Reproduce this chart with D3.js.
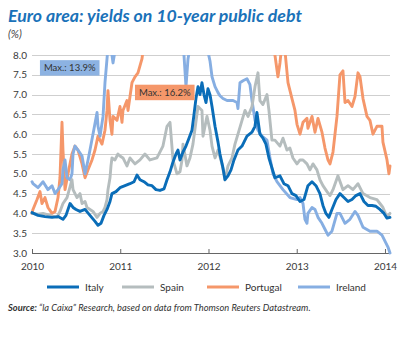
<!DOCTYPE html>
<html><head><meta charset="utf-8">
<script src="https://cdn.jsdelivr.net/npm/d3@7"></script>
<style>
html,body{margin:0;padding:0;background:#fff;}
svg{display:block;}
</style></head>
<body>
<svg id="chart" width="402" height="338"></svg>
<script>
// ---- data (decimal year, yield %) ----
const yTicks = [3.0, 3.5, 4.0, 4.5, 5.0, 5.5, 6.0, 6.5, 7.0, 7.5, 8.0];
const xTicks = [2010, 2011, 2012, 2013, 2014];
const seriesNames = ["Italy", "Spain", "Portugal", "Ireland"];
const maxLabels = ["Max.: 13.9%", "Max.: 16.2%"];

const italy = [[2010.000,4.02],[2010.068,3.95],[2010.147,3.92],[2010.227,3.90],[2010.295,3.92],[2010.351,3.85],[2010.385,3.95],[2010.431,4.25],[2010.465,4.15],[2010.499,4.10],[2010.544,4.05],[2010.601,4.10],[2010.657,3.95],[2010.714,3.80],[2010.748,3.70],[2010.782,3.75],[2010.816,3.95],[2010.850,4.10],[2010.884,4.30],[2010.906,4.50],[2010.952,4.55],[2010.997,4.65],[2011.054,4.70],[2011.110,4.75],[2011.156,4.80],[2011.190,4.97],[2011.224,4.85],[2011.269,4.80],[2011.314,4.72],[2011.360,4.70],[2011.405,4.60],[2011.450,4.58],[2011.496,4.62],[2011.530,4.85],[2011.564,5.05],[2011.598,5.30],[2011.632,5.50],[2011.654,5.60],[2011.677,5.35],[2011.711,5.55],[2011.745,5.70],[2011.779,5.90],[2011.813,6.10],[2011.836,6.50],[2011.858,6.90],[2011.881,7.20],[2011.904,7.00],[2011.926,7.30],[2011.949,7.00],[2011.972,6.80],[2011.994,7.15],[2012.017,7.00],[2012.040,6.70],[2012.074,6.20],[2012.108,5.80],[2012.130,5.50],[2012.164,5.15],[2012.187,4.85],[2012.221,4.95],[2012.255,5.10],[2012.289,5.35],[2012.334,5.60],[2012.380,5.70],[2012.436,5.95],[2012.493,6.05],[2012.527,6.20],[2012.549,6.55],[2012.583,6.00],[2012.617,5.90],[2012.651,5.75],[2012.685,5.40],[2012.719,5.15],[2012.753,4.90],[2012.810,4.95],[2012.855,4.75],[2012.901,4.70],[2012.946,4.50],[2012.991,4.45],[2013.037,4.30],[2013.082,4.35],[2013.127,4.70],[2013.173,4.80],[2013.218,4.70],[2013.263,4.50],[2013.297,4.20],[2013.331,4.00],[2013.365,3.90],[2013.399,4.10],[2013.445,4.35],[2013.490,4.50],[2013.535,4.40],[2013.581,4.30],[2013.626,4.35],[2013.671,4.45],[2013.717,4.50],[2013.762,4.30],[2013.807,4.20],[2013.853,4.20],[2013.898,4.18],[2013.943,4.10],[2013.989,4.00],[2014.023,3.88],[2014.057,3.90]];

const spain = [[2010.000,4.00],[2010.068,3.98],[2010.125,4.00],[2010.204,3.95],[2010.283,3.90],[2010.317,4.05],[2010.351,4.25],[2010.397,4.40],[2010.431,4.67],[2010.453,4.85],[2010.465,4.60],[2010.510,4.40],[2010.544,4.50],[2010.567,4.25],[2010.601,4.30],[2010.623,4.15],[2010.657,4.10],[2010.691,4.05],[2010.737,3.90],[2010.771,4.00],[2010.805,4.05],[2010.827,4.15],[2010.850,4.35],[2010.861,4.60],[2010.884,4.90],[2010.895,5.20],[2010.906,5.40],[2010.940,5.35],[2010.974,5.50],[2010.997,5.45],[2011.031,5.40],[2011.076,5.20],[2011.110,5.40],[2011.167,5.25],[2011.224,5.35],[2011.280,5.50],[2011.337,5.35],[2011.416,5.40],[2011.484,5.70],[2011.530,6.20],[2011.564,6.30],[2011.598,5.35],[2011.643,5.00],[2011.677,5.05],[2011.700,5.35],[2011.711,5.75],[2011.756,5.20],[2011.790,5.40],[2011.824,5.75],[2011.881,6.70],[2011.926,6.60],[2011.938,5.95],[2011.983,6.45],[2012.017,6.10],[2012.040,5.70],[2012.074,5.40],[2012.108,5.60],[2012.153,5.25],[2012.187,4.85],[2012.221,5.20],[2012.266,5.40],[2012.300,5.75],[2012.334,6.00],[2012.380,6.35],[2012.414,6.60],[2012.448,6.45],[2012.493,6.70],[2012.527,7.20],[2012.561,7.55],[2012.583,6.85],[2012.617,6.75],[2012.663,7.00],[2012.685,6.60],[2012.719,5.85],[2012.753,5.85],[2012.810,5.70],[2012.844,5.90],[2012.889,5.60],[2012.923,5.65],[2012.957,5.40],[2013.003,5.25],[2013.037,5.35],[2013.071,5.35],[2013.116,5.25],[2013.150,5.10],[2013.184,5.25],[2013.229,5.10],[2013.263,4.85],[2013.297,4.70],[2013.343,4.55],[2013.377,4.45],[2013.411,4.60],[2013.467,4.95],[2013.524,4.60],[2013.581,4.70],[2013.637,4.60],[2013.694,4.75],[2013.751,4.50],[2013.830,4.40],[2013.909,4.35],[2013.943,4.25],[2013.977,4.15],[2014.023,3.90],[2014.057,4.00]];

const portugal = [[2010.000,4.00],[2010.011,4.10],[2010.057,4.35],[2010.091,4.55],[2010.113,4.25],[2010.147,4.40],[2010.181,4.15],[2010.227,4.00],[2010.261,4.05],[2010.295,4.40],[2010.317,4.90],[2010.340,6.30],[2010.351,5.60],[2010.374,4.60],[2010.408,5.00],[2010.453,5.50],[2010.487,5.70],[2010.521,5.60],[2010.567,5.25],[2010.601,4.90],[2010.635,5.10],[2010.680,5.35],[2010.714,5.60],[2010.748,5.95],[2010.793,5.75],[2010.827,6.10],[2010.850,6.60],[2010.861,7.10],[2010.884,6.35],[2010.906,6.00],[2010.918,6.45],[2010.963,6.35],[2010.997,6.70],[2011.020,6.30],[2011.031,6.60],[2011.076,6.85],[2011.088,6.60],[2011.133,7.30],[2011.167,7.45],[2011.201,7.55],[2011.246,7.90],[2011.258,8.10],[2011.337,8.70],[2011.450,9.80],[2011.564,11.50],[2011.677,12.00],[2011.790,11.80],[2011.904,13.00],[2012.017,14.50],[2012.085,16.20],[2012.187,13.00],[2012.357,11.50],[2012.527,10.50],[2012.640,9.50],[2012.719,8.50],[2012.753,8.00],[2012.787,7.45],[2012.810,7.80],[2012.833,8.30],[2012.867,8.10],[2012.901,7.30],[2012.946,6.90],[2012.980,6.60],[2013.003,6.25],[2013.037,6.00],[2013.071,6.30],[2013.116,6.40],[2013.127,6.15],[2013.173,6.45],[2013.207,6.05],[2013.241,6.40],[2013.286,6.05],[2013.320,5.65],[2013.354,5.35],[2013.377,5.25],[2013.411,5.55],[2013.456,6.45],[2013.490,7.50],[2013.524,7.60],[2013.547,6.80],[2013.581,6.85],[2013.626,6.70],[2013.660,6.95],[2013.694,7.55],[2013.717,7.45],[2013.751,6.90],[2013.796,6.45],[2013.830,6.35],[2013.864,6.00],[2013.909,6.20],[2013.966,6.20],[2013.977,5.80],[2014.023,5.35],[2014.045,5.00],[2014.057,5.20]];

const ireland = [[2010.000,4.80],[2010.011,4.75],[2010.068,4.65],[2010.125,4.80],[2010.181,4.60],[2010.227,4.70],[2010.261,4.50],[2010.295,4.60],[2010.340,4.75],[2010.351,5.10],[2010.374,5.35],[2010.397,4.90],[2010.431,4.85],[2010.453,5.00],[2010.465,5.50],[2010.487,5.70],[2010.521,5.60],[2010.567,5.45],[2010.601,5.00],[2010.635,5.35],[2010.657,5.60],[2010.691,6.00],[2010.737,6.55],[2010.748,6.20],[2010.771,5.95],[2010.805,6.45],[2010.827,7.30],[2010.850,7.90],[2010.861,8.20],[2010.884,8.60],[2010.906,8.00],[2010.918,7.80],[2010.940,8.10],[2010.963,8.60],[2010.997,9.00],[2011.110,9.20],[2011.224,9.80],[2011.337,10.50],[2011.416,11.50],[2011.496,13.90],[2011.564,12.50],[2011.621,10.50],[2011.677,9.00],[2011.722,8.00],[2011.745,7.20],[2011.768,7.90],[2011.790,8.20],[2011.847,8.40],[2011.904,8.05],[2011.938,8.10],[2011.983,8.20],[2012.017,7.85],[2012.040,7.45],[2012.074,7.20],[2012.108,7.05],[2012.130,6.97],[2012.164,6.90],[2012.210,6.85],[2012.278,6.85],[2012.323,6.80],[2012.334,6.65],[2012.357,7.30],[2012.391,7.35],[2012.436,7.40],[2012.470,7.25],[2012.493,6.85],[2012.527,6.35],[2012.561,6.10],[2012.606,5.95],[2012.663,5.85],[2012.697,5.40],[2012.731,5.00],[2012.776,4.80],[2012.844,4.60],[2012.923,4.40],[2013.003,4.35],[2013.037,4.40],[2013.071,4.25],[2013.093,3.85],[2013.116,3.75],[2013.127,4.00],[2013.173,4.15],[2013.207,4.10],[2013.241,3.90],[2013.286,3.75],[2013.320,3.60],[2013.354,3.45],[2013.399,3.55],[2013.456,4.00],[2013.490,4.00],[2013.547,3.75],[2013.603,3.85],[2013.660,4.05],[2013.694,3.95],[2013.751,3.65],[2013.830,3.55],[2013.909,3.55],[2013.966,3.45],[2014.000,3.30],[2014.034,3.15],[2014.057,3.00]];

// ---- styling ----
const colors = {Italy:"#0a6db8", Spain:"#b5bdbe", Portugal:"#f5976a", Ireland:"#86aee2"};
const seriesData = {Italy:italy, Spain:spain, Portugal:portugal, Ireland:ireland};
const drawOrder = ["Portugal","Ireland","Spain","Italy"];
const font = "'Lato', 'Open Sans', sans-serif";

const svg = d3.select("#chart");
const x = d3.scaleLinear().domain([2010, 2014.057]).range([32, 390]);
const y = d3.scaleLinear().domain([3, 8]).range([253, 55]);

function fitText(sel, target){
  const n = sel.node(); const w = n.getComputedTextLength();
  const fs = parseFloat(sel.attr("font-size"));
  sel.attr("font-size", fs * target / w);
}
const title = svg.append("text").attr("x", 8).attr("y", 22)
  .attr("font-family", font).attr("font-weight", "bold").attr("font-style","italic")
  .attr("font-size", 15).attr("fill", "#1a72b9")
  .text("Euro area: yields on 10-year public debt");
fitText(title, 294);
svg.append("text").attr("x", 8).attr("y", 38)
  .attr("font-family", font).attr("font-style","italic").attr("font-size", 11).attr("fill", "#444")
  .text("(%)");

// grid
svg.append("g").selectAll("line").data(yTicks.filter(d => d > 3)).join("line")
  .attr("x1", 32).attr("x2", 390)
  .attr("y1", d => Math.round(y(d)) + 0.5).attr("y2", d => Math.round(y(d)) + 0.5)
  .attr("stroke", "#cfcfcf").attr("stroke-width", 1);

// y labels
svg.append("g").selectAll("text").data(yTicks).join("text")
  .attr("x", 27).attr("y", d => y(d) + 3.5).attr("text-anchor", "end")
  .attr("font-family", font).attr("font-size", 10).attr("fill", "#3a3a3a")
  .text(d => d.toFixed(1));

// x axis
const xAxis = svg.append("g").attr("transform", "translate(0,253)")
  .call(d3.axisBottom(x).tickValues(xTicks).tickSize(-4).tickFormat(d3.format("d")));
xAxis.select(".domain").attr("stroke", "#666").attr("d", "M32,0.5H390");
xAxis.selectAll(".tick line").attr("stroke", "#666");
xAxis.selectAll(".tick text").attr("font-family", font).attr("font-size", 10)
  .attr("fill", "#3a3a3a").attr("dy", "1.35em");

// clip
svg.append("clipPath").attr("id", "plotclip").append("rect")
  .attr("x", 30).attr("y", 55).attr("width", 365).attr("height", 200);

const line = d3.line().x(d => x(d[0])).y(d => y(d[1])).curve(d3.curveLinear);
svg.append("g").attr("clip-path", "url(#plotclip)").selectAll("path").data(drawOrder).join("path")
  .attr("d", k => line(seriesData[k]))
  .attr("fill", "none").attr("stroke", k => colors[k]).attr("stroke-width", 2.9)
  .attr("stroke-linejoin", "round").attr("stroke-linecap", "round");

// max labels
const boxes = [
  {text: maxLabels[0], x0: 2010.09, v: 7.87, fill: "#8cb2e2"},
  {text: maxLabels[1], x0: 2011.167, v: 7.25, fill: "#f5976a"}
];
boxes.forEach(b => {
  const g = svg.append("g");
  const t = g.append("text").attr("font-family", font).attr("font-size", 9.5).attr("fill", "#333")
    .attr("x", x(b.x0) + 4).attr("y", y(b.v) + 11).text(b.text);
  const w = t.node().getComputedTextLength();
  g.insert("rect", "text").attr("x", x(b.x0)).attr("y", y(b.v)).attr("width", w + 8).attr("height", 15.5)
    .attr("fill", b.fill);
});

// legend
const legendX = [47, 122, 207, 298];
const lg = svg.append("g");
seriesNames.forEach((k, i) => {
  lg.append("line").attr("x1", legendX[i]).attr("x2", legendX[i] + 32)
    .attr("y1", 287).attr("y2", 287).attr("stroke", colors[k]).attr("stroke-width", 3);
  lg.append("text").attr("x", legendX[i] + 38).attr("y", 290.5)
    .attr("font-family", font).attr("font-size", 10).attr("fill", "#333").text(k);
});

// source
const src = svg.append("text").attr("x", 8).attr("y", 311)
  .attr("font-family", font).attr("font-style", "italic").attr("font-size", 8.5).attr("fill", "#333");
src.append("tspan").attr("font-weight", "bold").text("Source:");
src.append("tspan").text(" “la Caixa” Research, based on data from Thomson Reuters Datastream.");
fitText(src, 303);
</script>
</body></html>
